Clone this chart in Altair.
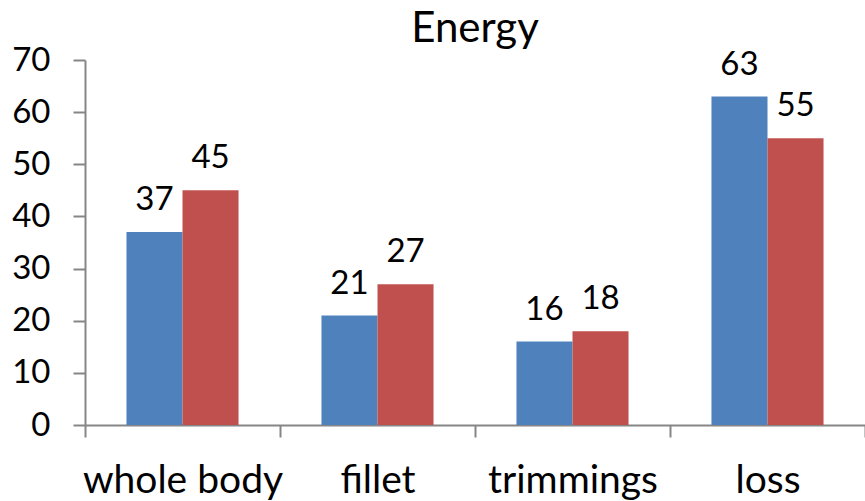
import altair as alt
import pandas as pd

# Energy distribution by fraction, two series per category
categories = ["whole body", "fillet", "trimmings", "loss"]
series_names = ["A", "B"]
series_a = [37, 21, 16, 63]
series_b = [45, 27, 18, 55]
y_ticks = [0, 10, 20, 30, 40, 50, 60, 70]

rows = []
for cat, a, b in zip(categories, series_a, series_b):
    rows.append({"category": cat, "series": series_names[0], "value": a})
    rows.append({"category": cat, "series": series_names[1], "value": b})
df = pd.DataFrame(rows)

FONT = "Lato"
AXIS_COLOR = "#868686"

x_enc = alt.X(
    "category:N",
    sort=categories,
    scale=alt.Scale(paddingInner=0, paddingOuter=0),
    axis=alt.Axis(
        title=None,
        labelAngle=0,
        labelFont=FONT,
        labelFontSize=39,
        labelColor="black",
        labelPadding=24,
        labelLimit=0,
        domainColor=AXIS_COLOR,
        domainWidth=2,
        tickColor=AXIS_COLOR,
        tickWidth=2,
        tickSize=12,
        tickBand="extent",
        grid=False,
    ),
)
xoff_enc = alt.XOffset(
    "series:N",
    sort=series_names,
    scale=alt.Scale(paddingInner=0, paddingOuter=0.74),
)
y_enc = alt.Y(
    "value:Q",
    scale=alt.Scale(domain=[0, 70], nice=False),
    axis=alt.Axis(
        title=None,
        values=y_ticks,
        labelFont=FONT,
        labelFontSize=33,
        labelColor="black",
        labelPadding=23,
        domainColor=AXIS_COLOR,
        domainWidth=2,
        tickColor=AXIS_COLOR,
        tickWidth=2,
        tickSize=12,
        grid=False,
    ),
)
color_enc = alt.Color(
    "series:N",
    sort=series_names,
    scale=alt.Scale(domain=series_names, range=["#4F81BD", "#C0504D"]),
    legend=None,
)

bars = alt.Chart(df).mark_bar().encode(x=x_enc, xOffset=xoff_enc, y=y_enc, color=color_enc)

labels = alt.Chart(df).mark_text(
    font=FONT, fontSize=33, color="black", baseline="alphabetic", dy=-22
).encode(x=x_enc, xOffset=xoff_enc, y=y_enc, text=alt.Text("value:Q", format="d"))

chart = (
    alt.layer(bars, labels)
    .properties(
        width=780,
        height=365,
        autosize=alt.AutoSizeParams(type="none"),
        padding={"left": 85, "top": 60, "right": 0, "bottom": 76},
        title=alt.TitleParams(
            text="Energy",
            font=FONT,
            fontSize=42,
            fontWeight="normal",
            color="black",
            anchor="middle",
            frame="group",
            baseline="alphabetic",
            offset=0,
            dy=40,
        ),
    )
    .configure_view(stroke=None)
)

chart.save("out.html", embed_options={"renderer": "svg", "actions": False})
